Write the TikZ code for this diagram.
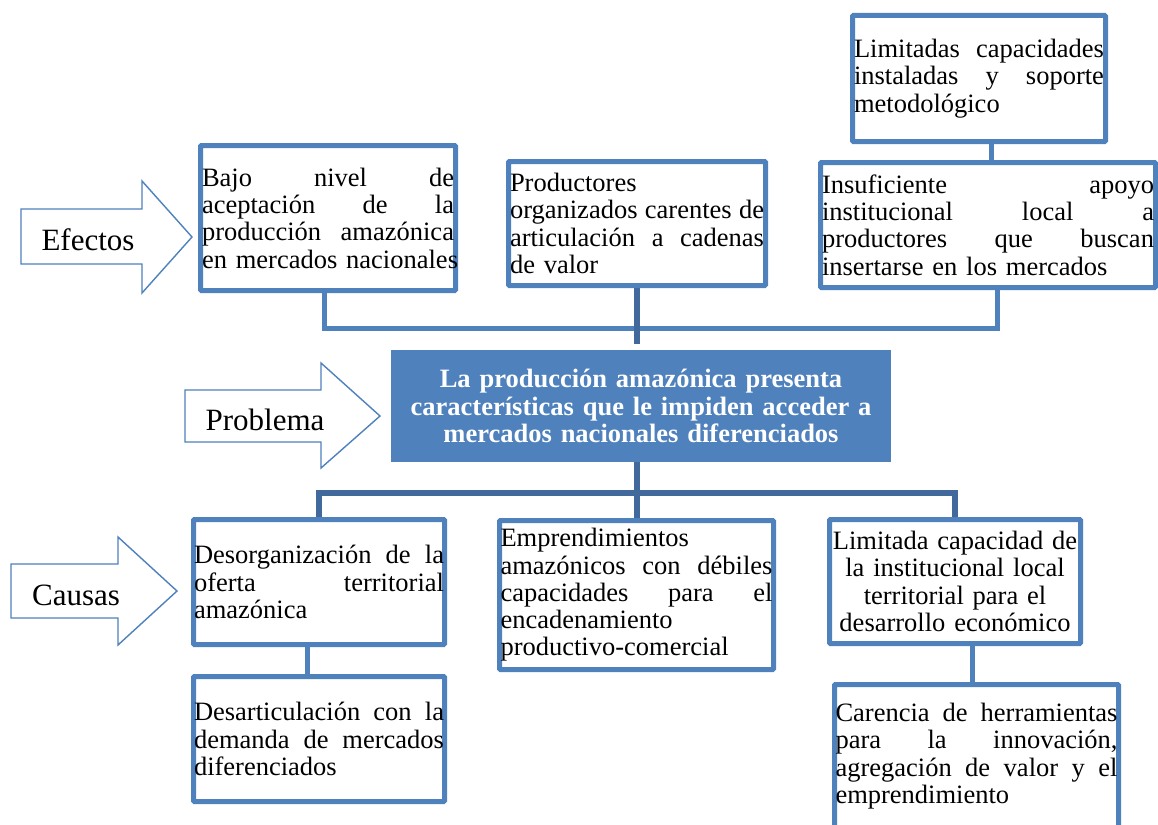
\documentclass[tikz,border=0pt]{standalone}
\usepackage{fontspec}
\setmainfont{Liberation Serif}
\usetikzlibrary{backgrounds}
\definecolor{boxblue}{HTML}{4F81BD}
\definecolor{darkblue}{HTML}{41699B}
\newlength\jwidth
\newcommand\jline[1]{\leavevmode\hbox to \jwidth{\spaceskip=0.25em plus 1fil\relax #1}}
\newcommand\nline[1]{\leavevmode\mbox{#1}}
\begin{document}
\begin{tikzpicture}[x=1pt,y=-1pt,
  box/.style={draw=boxblue, line width=5pt, fill=white, rounded corners=1pt, inner sep=0pt,
    font=\fontsize{26.5}{27.3}\selectfont, align=left},
  tw/.style={text width=#1, execute at begin node={\setlength{\jwidth}{#1}}},
  mainbox/.style={fill=boxblue, inner sep=0pt, text=white, align=center,
    font=\fontsize{26.5}{27.3}\selectfont\bfseries},
  arr/.style={draw=boxblue, line width=1.4pt, fill=white, line join=miter},
  lbl/.style={font=\fontsize{31}{34}\selectfont, inner sep=0pt, anchor=base},
  lt/.style={draw=boxblue, line width=5pt},
  dk/.style={draw=darkblue, line width=5.5pt}]
\clip (0,0) rectangle (1158,824);

% side arrows
\draw[arr] (21,209) -- (142,209) -- (142,181) -- (192,237) -- (142,293) -- (142,264) -- (21,264) -- cycle;
\node[lbl] (efectos) at (88,250) {Efectos};
\draw[arr] (185,390) -- (321,390) -- (321,363) -- (380,416) -- (321,468) -- (321,442) -- (185,442) -- cycle;
\node[lbl] (problema) at (265,430) {Problema};
\draw[arr] (11,564) -- (118,564) -- (118,537) -- (177,591) -- (118,645) -- (118,618) -- (11,618) -- cycle;
\node[lbl] (causas) at (76,605) {Causas};

% effect boxes
\node[box, minimum width=255pt, minimum height=145pt, tw=252pt] (bajo) at (328,218)
  {\jline{Bajo nivel de}\\\jline{aceptación de la}\\\jline{producción amazónica}\\\nline{en mercados nacionales}};
\node[box, minimum width=257pt, minimum height=124pt, tw=254pt] (prod) at (637,223.5)
  {\nline{Productores}\\\jline{organizados carentes de}\\\jline{articulación a cadenas}\\\nline{de valor}};
\node[box, minimum width=253pt, minimum height=126pt, tw=250pt] (limc) at (979,78.5)
  {\jline{Limitadas capacidades}\\\jline{instaladas y soporte}\\\nline{metodológico}};
\node[box, minimum width=335pt, minimum height=125pt, tw=332pt] (insu) at (988,225)
  {\jline{Insuficiente apoyo}\\\jline{institucional local a}\\\jline{productores que buscan}\\\nline{insertarse en los mercados}};

% problem
\node[mainbox, minimum width=500pt, minimum height=112pt, text width=490pt] (main) at (641,406)
  {La producción amazónica presenta\\características que le impiden acceder a\\mercados nacionales diferenciados};

% cause boxes
\node[box, minimum width=251pt, minimum height=125pt, tw=250pt] (desorg) at (319,582)
  {\jline{Desorganización de la}\\\jline{oferta territorial}\\\nline{amazónica}};
\node[box, minimum width=251pt, minimum height=125pt, tw=250pt] (desart) at (319,739)
  {\jline{Desarticulación con la}\\\jline{demanda de mercados}\\\nline{diferenciados}};
\node[box, minimum width=274pt, minimum height=149pt, tw=272pt] (empr) at (636.5,595)
  {\nline{Emprendimientos}\\\jline{amazónicos con débiles}\\\jline{capacidades para el}\\\nline{encadenamiento}\\\nline{productivo-comercial}};
\node[box, minimum width=251pt, minimum height=124pt, tw=250pt, align=center] (limd) at (955,581.5)
  {Limitada capacidad de\\la institucional local\\territorial para el\\desarrollo económico};
\node[box, minimum width=284pt, minimum height=143pt, tw=282pt] (car) at (976.5,756)
  {\jline{Carencia de herramientas}\\\jline{para la innovación,}\\\jline{agregación de valor y el}\\\nline{emprendimiento}};

\coordinate (hu) at (637,328);
\coordinate (pe) at (637,344);
\coordinate (hl) at (637,493);

\begin{scope}[on background layer]
  \fill[white] (0,0) rectangle (1158,824);
  \draw[lt] ([xshift=-4pt]bajo.south) |- (hu) -| ([xshift=9pt]insu.south);
  \draw[dk] (prod.south) -- (pe);
  \draw[lt] ([xshift=3pt]insu.north) -- ([xshift=3pt]insu.north |- limc.south);
  \draw[dk] (main.south -| hl) -- (hl);
  \draw[dk] (desorg.north) |- (hl) -| (limd.north);
  \draw[dk] (hl) -- (empr.north -| hl);
  \draw[lt] ([xshift=-12pt]desorg.south) -- ([xshift=-12pt]desart.north);
  \draw[lt] ([xshift=-4pt]car.north) -- ([xshift=-4pt]car.north |- limd.south);
\end{scope}
\end{tikzpicture}
\end{document}
